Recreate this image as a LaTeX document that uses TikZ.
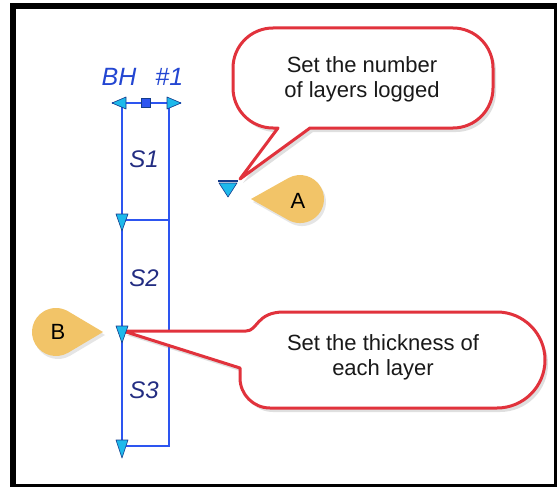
\documentclass[tikz,border=0pt]{standalone}
\usepackage{fontspec}
\setmainfont{Liberation Sans}
\usetikzlibrary{shadows}
\definecolor{calloutred}{RGB}{225,50,60}
\definecolor{colblue}{RGB}{45,85,240}
\definecolor{trifill}{RGB}{30,185,235}
\definecolor{triline}{RGB}{20,60,140}
\definecolor{teargold}{RGB}{242,196,104}
\definecolor{bhblue}{RGB}{35,70,210}
\definecolor{snavy}{RGB}{35,45,130}
\definecolor{txtgrey}{RGB}{25,25,25}
\begin{document}
\begin{tikzpicture}[x=1pt,y=-1pt,
 callout/.style={draw=calloutred,line width=3pt,fill=white,line join=round,
   drop shadow={shadow xshift=3pt,shadow yshift=-4pt,opacity=0.25}},
 tear/.style={fill=teargold,drop shadow={shadow xshift=2pt,shadow yshift=-3pt,opacity=0.2}},
 colline/.style={draw=colblue,line width=2.8pt},
 marker/.style={fill=trifill,draw=triline,line width=0.6pt,line join=round},
 calltext/.style={font=\fontsize{22}{25}\selectfont,text=txtgrey,align=center},
 letter/.style={font=\fontsize{22}{25}\selectfont,text=black},
 slabel/.style={font=\fontsize{24}{25}\selectfont\itshape,text=snavy},
]
\useasboundingbox (0,0) rectangle (557,487);
\fill[white] (0,0) rectangle (557,487);
\draw[line width=6pt] (13,6) rectangle (557,487);

% borehole column
\draw[colline] (122,103) -- (122,446) -- (169,446) -- (169,103);
\draw[colline] (122,220) -- (169,220);
\draw[colline] (112,103) -- (181,103);

% callout 1
\path[callout] (240,179) -- (278,128) -- (273,128)
  arc[start angle=90,end angle=180,radius=40] -- (233,68)
  arc[start angle=180,end angle=270,radius=40] -- (453,28)
  arc[start angle=270,end angle=360,radius=40] -- (493,88)
  arc[start angle=0,end angle=90,radius=40] -- (310,128) -- cycle;

% callout 2
\path[callout] (123,331) -- (246,331) .. controls (258,331) and (256,312) .. (284,312)
  -- (497,312) arc[start angle=270,end angle=450,radius=48]
  -- (270,408) arc[start angle=90,end angle=180,radius=30]
  -- (240,368) -- cycle;

% markers
\path[marker] (112,103) -- (126,97) -- (126,109) -- cycle;
\path[marker] (181,103) -- (167,97) -- (167,109) -- cycle;
\path[fill=colblue,draw=triline,line width=0.6pt] (141.5,98.5) rectangle (150.5,107.5);
\path[marker] (116,214) -- (128,214) -- (122,231) -- cycle;
\path[marker] (116,326) -- (128,326) -- (122,343) -- cycle;
\path[marker] (116,440) -- (128,440) -- (122,458) -- cycle;
\draw[triline,line width=2pt] (218,181) -- (238,181);
\path[marker] (219,183) -- (237,183) -- (228,197) -- cycle;

% teardrops
\path[tear] (251,199) -- (288.5,178.0) arc[start angle=241.3,end angle=478.7,radius=24] -- cycle;
\path[tear] (103,332) -- (68,352.8) arc[start angle=60,end angle=300,radius=24] -- cycle;

% texts
\node[font=\fontsize{25}{26}\selectfont\itshape,text=bhblue] (bh) at (142.5,77) {BH\hspace{19pt}\#1};
\node[slabel] (s1) at (144,159) {S1};
\node[slabel] (s2) at (144,278) {S2};
\node[slabel] (s3) at (144,390) {S3};
\node[calltext] (t1) at (362,79) {Set the number\\of layers logged};
\node[calltext] (t2) at (383,357) {Set the thickness of\\each layer};
\node[letter] (a) at (298,201) {A};
\node[letter] (b) at (58,332) {B};
\end{tikzpicture}
\end{document}
